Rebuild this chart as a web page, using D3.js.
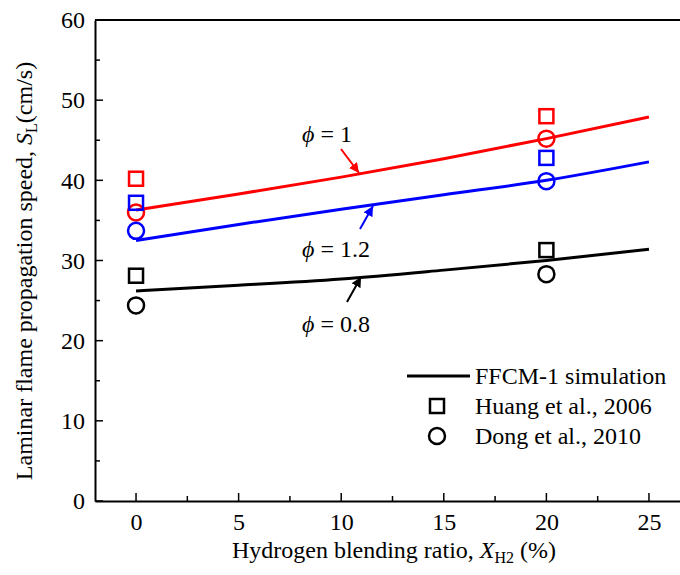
<!DOCTYPE html>
<html><head><meta charset="utf-8">
<script src="https://cdn.jsdelivr.net/npm/d3@7"></script>
<style>body{margin:0;background:#fff}svg{display:block}</style>
</head><body>
<script>
const simX = [0, 5, 10, 15, 20, 25];
const simPhi1 = [36.3, 38.3, 40.4, 42.7, 45.2, 47.9];
const simPhi12 = [32.5, 34.5, 36.4, 38.2, 40.0, 42.3];
const simPhi08 = [26.2, 26.9, 27.7, 28.8, 30.0, 31.4];
const expX = [0, 20];
const huangPhi1 = [40.2, 48.0];
const huangPhi12 = [37.2, 42.8];
const huangPhi08 = [28.1, 31.3];
const dongPhi1 = [36.0, 45.2];
const dongPhi12 = [33.7, 39.9];
const dongPhi08 = [24.4, 28.3];
const xTicks = [0, 5, 10, 15, 20, 25];
const yTicks = [0, 10, 20, 30, 40, 50, 60];
const series = [
  {sim: simPhi1, huang: huangPhi1, dong: dongPhi1, color: "#ff0000"},
  {sim: simPhi12, huang: huangPhi12, dong: dongPhi12, color: "#0000ff"},
  {sim: simPhi08, huang: huangPhi08, dong: dongPhi08, color: "#000000"}
];

const FONT = "Liberation Serif, Times New Roman, DejaVu Serif, serif";
const FS = 24;
const W = 680, H = 575;
const svg = d3.select("body").append("svg").attr("width", W).attr("height", H)
  .attr("font-family", FONT);
const x = d3.scaleLinear().domain([-2, 27]).range([95, 690]);
const y = d3.scaleLinear().domain([0, 60]).range([501, 20]);

const defs = svg.append("defs");
[["ar","#ff0000"],["ab","#0000ff"],["ak","#000000"]].forEach(([id,c])=>{
  defs.append("marker").attr("id", id).attr("viewBox","0 0 10 10").attr("refX",10).attr("refY",5)
    .attr("markerWidth",5).attr("markerHeight",5).attr("orient","auto")
    .append("path").attr("d","M0,0L10,5L0,10z").attr("fill",c);
});

// axes
const gx = svg.append("g").attr("transform", `translate(0,${y(0)})`)
  .call(d3.axisBottom(x).tickValues(xTicks).tickSize(0).tickPadding(12));
gx.attr("font-family", FONT).attr("font-size", FS);
gx.selectAll("text").attr("fill","#000");
gx.select(".domain").attr("stroke-width", 2);
const gy = svg.append("g").attr("transform", `translate(${x(-2)},0)`)
  .call(d3.axisLeft(y).tickValues(yTicks).tickSize(0).tickPadding(10));
gy.attr("font-family", FONT).attr("font-size", FS);
gy.selectAll("text").attr("fill","#000");
gy.select(".domain").attr("stroke-width", 2);
svg.append("line").attr("x1", x(-2)).attr("x2", W).attr("y1", y(60)).attr("y2", y(60)).attr("stroke","#000").attr("stroke-width",2);

// inward ticks
xTicks.forEach(v => svg.append("line").attr("x1",x(v)).attr("x2",x(v)).attr("y1",y(0)).attr("y2",y(0)-8).attr("stroke","#000").attr("stroke-width",1.5));
d3.range(2.5, 27, 5).forEach(v => svg.append("line").attr("x1",x(v)).attr("x2",x(v)).attr("y1",y(0)).attr("y2",y(0)-5).attr("stroke","#000").attr("stroke-width",1.5));
yTicks.forEach(v => svg.append("line").attr("x1",x(-2)).attr("x2",x(-2)+8).attr("y1",y(v)).attr("y2",y(v)).attr("stroke","#000").attr("stroke-width",1.5));
d3.range(5, 60, 10).forEach(v => svg.append("line").attr("x1",x(-2)).attr("x2",x(-2)+5).attr("y1",y(v)).attr("y2",y(v)).attr("stroke","#000").attr("stroke-width",1.5));

// lines
const line = d3.line().x((d,i)=>x(simX[i])).y(d=>y(d)).curve(d3.curveMonotoneX);
series.forEach(s => {
  svg.append("path").attr("d", line(s.sim)).attr("fill","none").attr("stroke", s.color).attr("stroke-width", 3);
});
// markers
const sq = 14;
series.forEach(s => {
  s.huang.forEach((v,i) => svg.append("rect").attr("x", x(expX[i])-sq/2).attr("y", y(v)-sq/2).attr("width",sq).attr("height",sq)
    .attr("fill","none").attr("stroke",s.color).attr("stroke-width",2.5));
  s.dong.forEach((v,i) => svg.append("circle").attr("cx", x(expX[i])).attr("cy", y(v)).attr("r",8)
    .attr("fill","none").attr("stroke",s.color).attr("stroke-width",2.5));
});

// annotations
function phiLabel(tx, ty, val){
  const t = svg.append("text").attr("x", tx).attr("y", ty).attr("font-size", FS).attr("fill","#000");
  t.append("tspan").attr("font-style","italic").text("ϕ");
  t.append("tspan").text(" = " + val);
}
phiLabel(302, 142, "1");
phiLabel(302, 257, "1.2");
phiLabel(302, 332, "0.8");
function arrow(x1,y1,x2,y2,c,id){
  svg.append("line").attr("x1",x1).attr("y1",y1).attr("x2",x2).attr("y2",y2).attr("stroke",c).attr("stroke-width",2).attr("marker-end",`url(#${id})`);
}
arrow(341,149,359,173,"#ff0000","ar");
arrow(360,229,373,206,"#0000ff","ab");
arrow(347,302,361,277,"#000000","ak");

// legend
svg.append("line").attr("x1",407).attr("x2",470).attr("y1",376).attr("y2",376).attr("stroke","#000").attr("stroke-width",3);
svg.append("text").attr("x",475).attr("y",384).attr("font-size",FS).text("FFCM-1 simulation");
svg.append("rect").attr("x",437-7).attr("y",406-7).attr("width",14).attr("height",14).attr("fill","none").attr("stroke","#000").attr("stroke-width",2.5);
svg.append("text").attr("x",475).attr("y",414).attr("font-size",FS).text("Huang et al., 2006");
svg.append("circle").attr("cx",437).attr("cy",436).attr("r",8).attr("fill","none").attr("stroke","#000").attr("stroke-width",2.5);
svg.append("text").attr("x",475).attr("y",444).attr("font-size",FS).text("Dong et al., 2010");

// axis titles
const xt = svg.append("text").attr("x", 394).attr("y", 558).attr("text-anchor","middle").attr("font-size",FS);
xt.append("tspan").text("Hydrogen blending ratio, ");
xt.append("tspan").attr("font-style","italic").text("X");
xt.append("tspan").attr("font-size",16).attr("dy",5).text("H2");
xt.append("tspan").attr("dy",-5).text(" (%)");
const yt = svg.append("text").attr("transform","translate(32,271) rotate(-90)").attr("text-anchor","middle").attr("font-size",FS);
yt.append("tspan").text("Laminar flame propagation speed, ");
yt.append("tspan").attr("font-style","italic").text("S");
yt.append("tspan").attr("font-size",16).attr("dy",5).text("L");
yt.append("tspan").attr("dy",-5).text("(cm/s)");
</script>
</body></html>
